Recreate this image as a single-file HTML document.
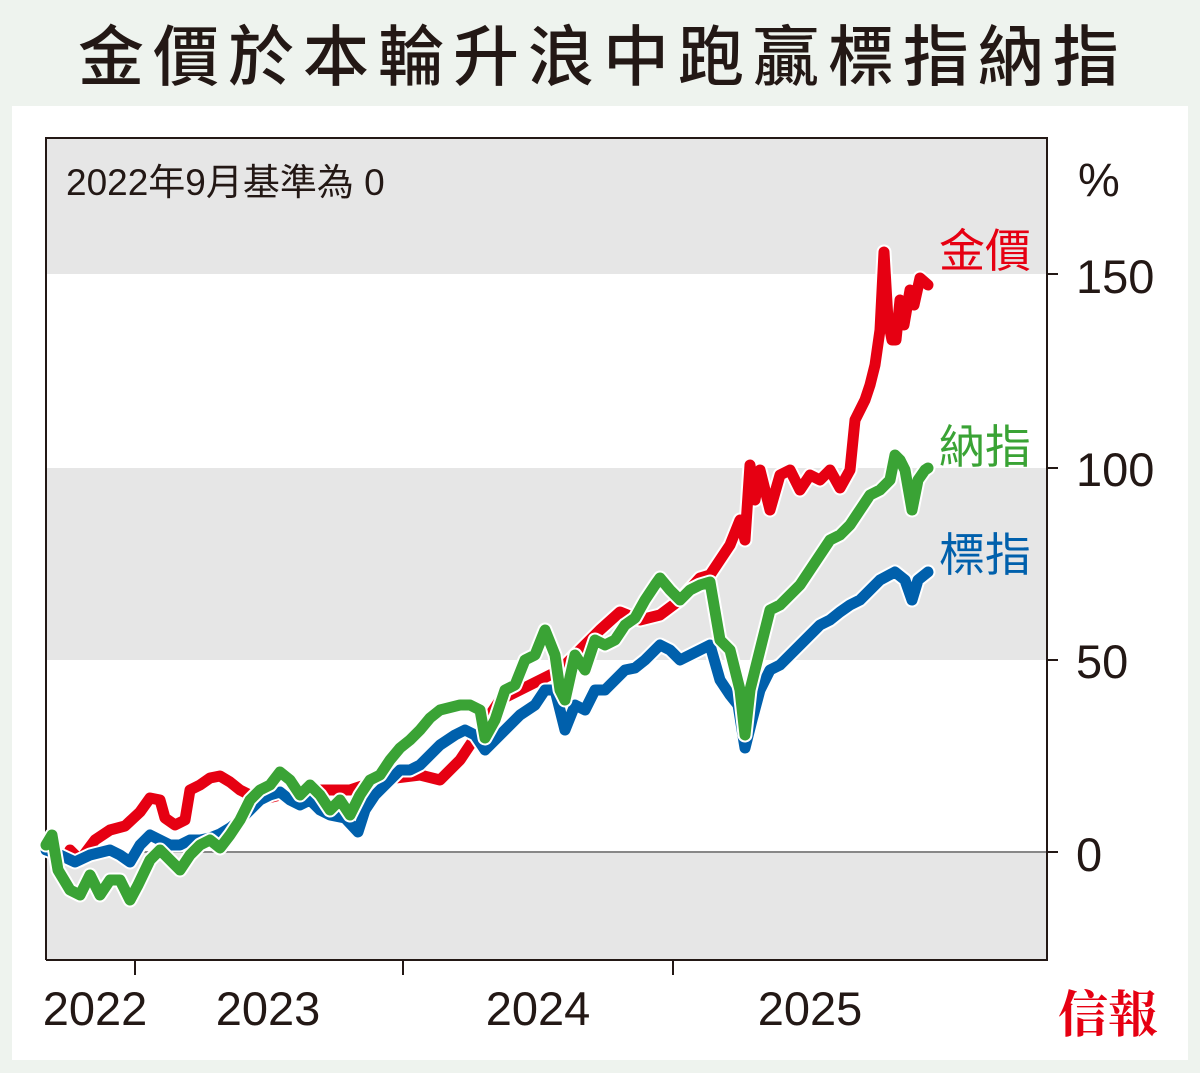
<!DOCTYPE html>
<html><head><meta charset="utf-8"><style>
body{margin:0;width:1200px;height:1073px;background:#eef3ee;overflow:hidden;font-family:"Liberation Sans","Noto Sans CJK TC",sans-serif}
</style></head><body>
<svg width="1200" height="1073" viewBox="0 0 1200 1073" xmlns="http://www.w3.org/2000/svg" style="position:absolute;left:0;top:0">
<defs>
<polyline id="r" points="70,850 80,860 95,840 110,830 125,826 140,812 150,798 160,800 165,818 175,825 185,820 190,790 200,785 210,778 220,776 230,782 240,790 260,800 300,790 350,790 380,780 420,775 440,780 460,760 480,730 500,700 520,690 540,680 560,670 580,650 600,630 620,612 640,620 660,615 680,600 700,578 710,575 720,560 730,545 740,520 745,540 750,465 755,500 760,470 765,490 770,510 780,475 790,470 800,490 810,475 820,480 830,470 840,488 850,470 855,420 865,400 870,385 875,365 880,330 884,252 888,320 892,340 896,340 900,300 904,325 910,290 914,305 920,278 928,285"/>
<polyline id="b" points="46,850 60,855 75,862 90,855 110,850 120,855 130,862 140,845 150,835 160,840 170,845 180,845 190,840 200,840 210,838 220,834 230,828 240,820 250,810 260,800 270,795 280,792 290,800 300,805 310,800 320,810 330,815 345,818 358,832 365,810 375,795 390,780 400,770 410,770 420,765 430,755 440,745 455,735 465,730 475,735 485,750 495,740 505,730 520,715 535,705 545,690 555,690 565,730 575,705 585,710 595,690 605,690 615,680 625,670 635,668 645,660 660,645 670,650 680,660 690,655 700,650 710,645 720,680 730,695 738,705 745,748 752,720 760,690 770,670 780,665 790,655 800,645 810,635 820,625 830,620 840,612 850,605 860,600 870,590 880,580 895,572 905,580 912,600 918,580 928,572"/>
<polyline id="g" points="46,845 52,835 58,870 70,890 80,895 90,875 100,895 110,880 120,880 130,900 138,885 150,860 160,850 170,860 180,870 190,855 200,845 210,840 220,848 230,835 240,820 250,800 260,790 270,785 280,772 290,780 300,795 310,785 320,795 330,810 340,800 350,815 360,795 370,780 380,775 390,760 400,748 410,740 420,730 430,718 440,710 460,705 470,705 480,710 485,738 495,720 505,690 515,685 525,660 535,655 545,630 555,655 560,690 565,700 575,655 585,670 595,640 605,645 615,640 625,625 635,618 645,600 655,585 660,578 670,590 680,600 690,590 700,585 710,582 720,640 730,650 740,690 745,735 750,690 760,650 770,610 780,605 790,595 800,585 810,570 820,555 830,540 840,535 850,525 860,510 870,495 880,490 890,480 895,455 900,460 905,470 912,510 918,480 925,470 928,468"/>
</defs>
<rect x="0" y="0" width="1200" height="1073" fill="#eef3ee"/>
<text x="603" y="80" text-anchor="middle" font-size="66" font-weight="500" font-family="Noto Sans CJK TC, sans-serif" fill="#231815" letter-spacing="9">金價於本輪升浪中跑贏標指納指</text>
<rect x="12" y="106" width="1176" height="954" fill="#fff"/>
<rect x="46" y="138" width="1001" height="136" fill="#e6e6e6"/>
<rect x="46" y="468" width="1001" height="192" fill="#e6e6e6"/>
<rect x="46" y="852" width="1001" height="108" fill="#e6e6e6"/>
<line x1="46" y1="852" x2="1047" y2="852" stroke="#888" stroke-width="2"/>
<path d="M46,960 V138 H1047 V960 H46" fill="none" stroke="#231815" stroke-width="2"/>
<g stroke="#231815" stroke-width="2">
<line x1="1047" y1="274" x2="1058" y2="274"/><line x1="1047" y1="468" x2="1058" y2="468"/>
<line x1="1047" y1="660" x2="1058" y2="660"/><line x1="1047" y1="852" x2="1058" y2="852"/>
<line x1="135" y1="960" x2="135" y2="975"/><line x1="403" y1="960" x2="403" y2="975"/><line x1="673" y1="960" x2="673" y2="975"/>
</g>
<text x="66" y="195" font-size="37" fill="#231815">2022年9月基準為 0</text>
<g font-size="47" fill="#231815">
<text x="1078" y="196">%</text>
<text x="1076" y="293">150</text><text x="1076" y="486">100</text>
<text x="1076" y="678">50</text><text x="1076" y="871">0</text>
<text x="95" y="1025" text-anchor="middle">2022</text><text x="268" y="1025" text-anchor="middle">2023</text>
<text x="538" y="1025" text-anchor="middle">2024</text><text x="810" y="1025" text-anchor="middle">2025</text>
</g>
<g font-size="46" font-family="Noto Sans CJK TC, sans-serif" text-anchor="middle">
<text x="985" y="267" fill="#e60012">金價</text>
<text x="985" y="463" fill="#3aa335">納指</text>
<text x="985" y="571" fill="#0060ac">標指</text>
</g>
<text x="1108" y="1032" font-size="50" font-weight="bold" font-family="Noto Serif CJK SC, serif" fill="#e60012" text-anchor="middle">信報</text>
<g fill="none" stroke-linejoin="round" stroke-linecap="round">
<use href="#r" stroke="#fff" stroke-width="15"/>
<use href="#r" stroke="#e60012" stroke-width="11"/>
<use href="#b" stroke="#fff" stroke-width="15"/>
<use href="#b" stroke="#0060ac" stroke-width="11"/>
<use href="#g" stroke="#fff" stroke-width="15"/>
<use href="#g" stroke="#3aa335" stroke-width="11"/>
</g>
</svg>
</body></html>
